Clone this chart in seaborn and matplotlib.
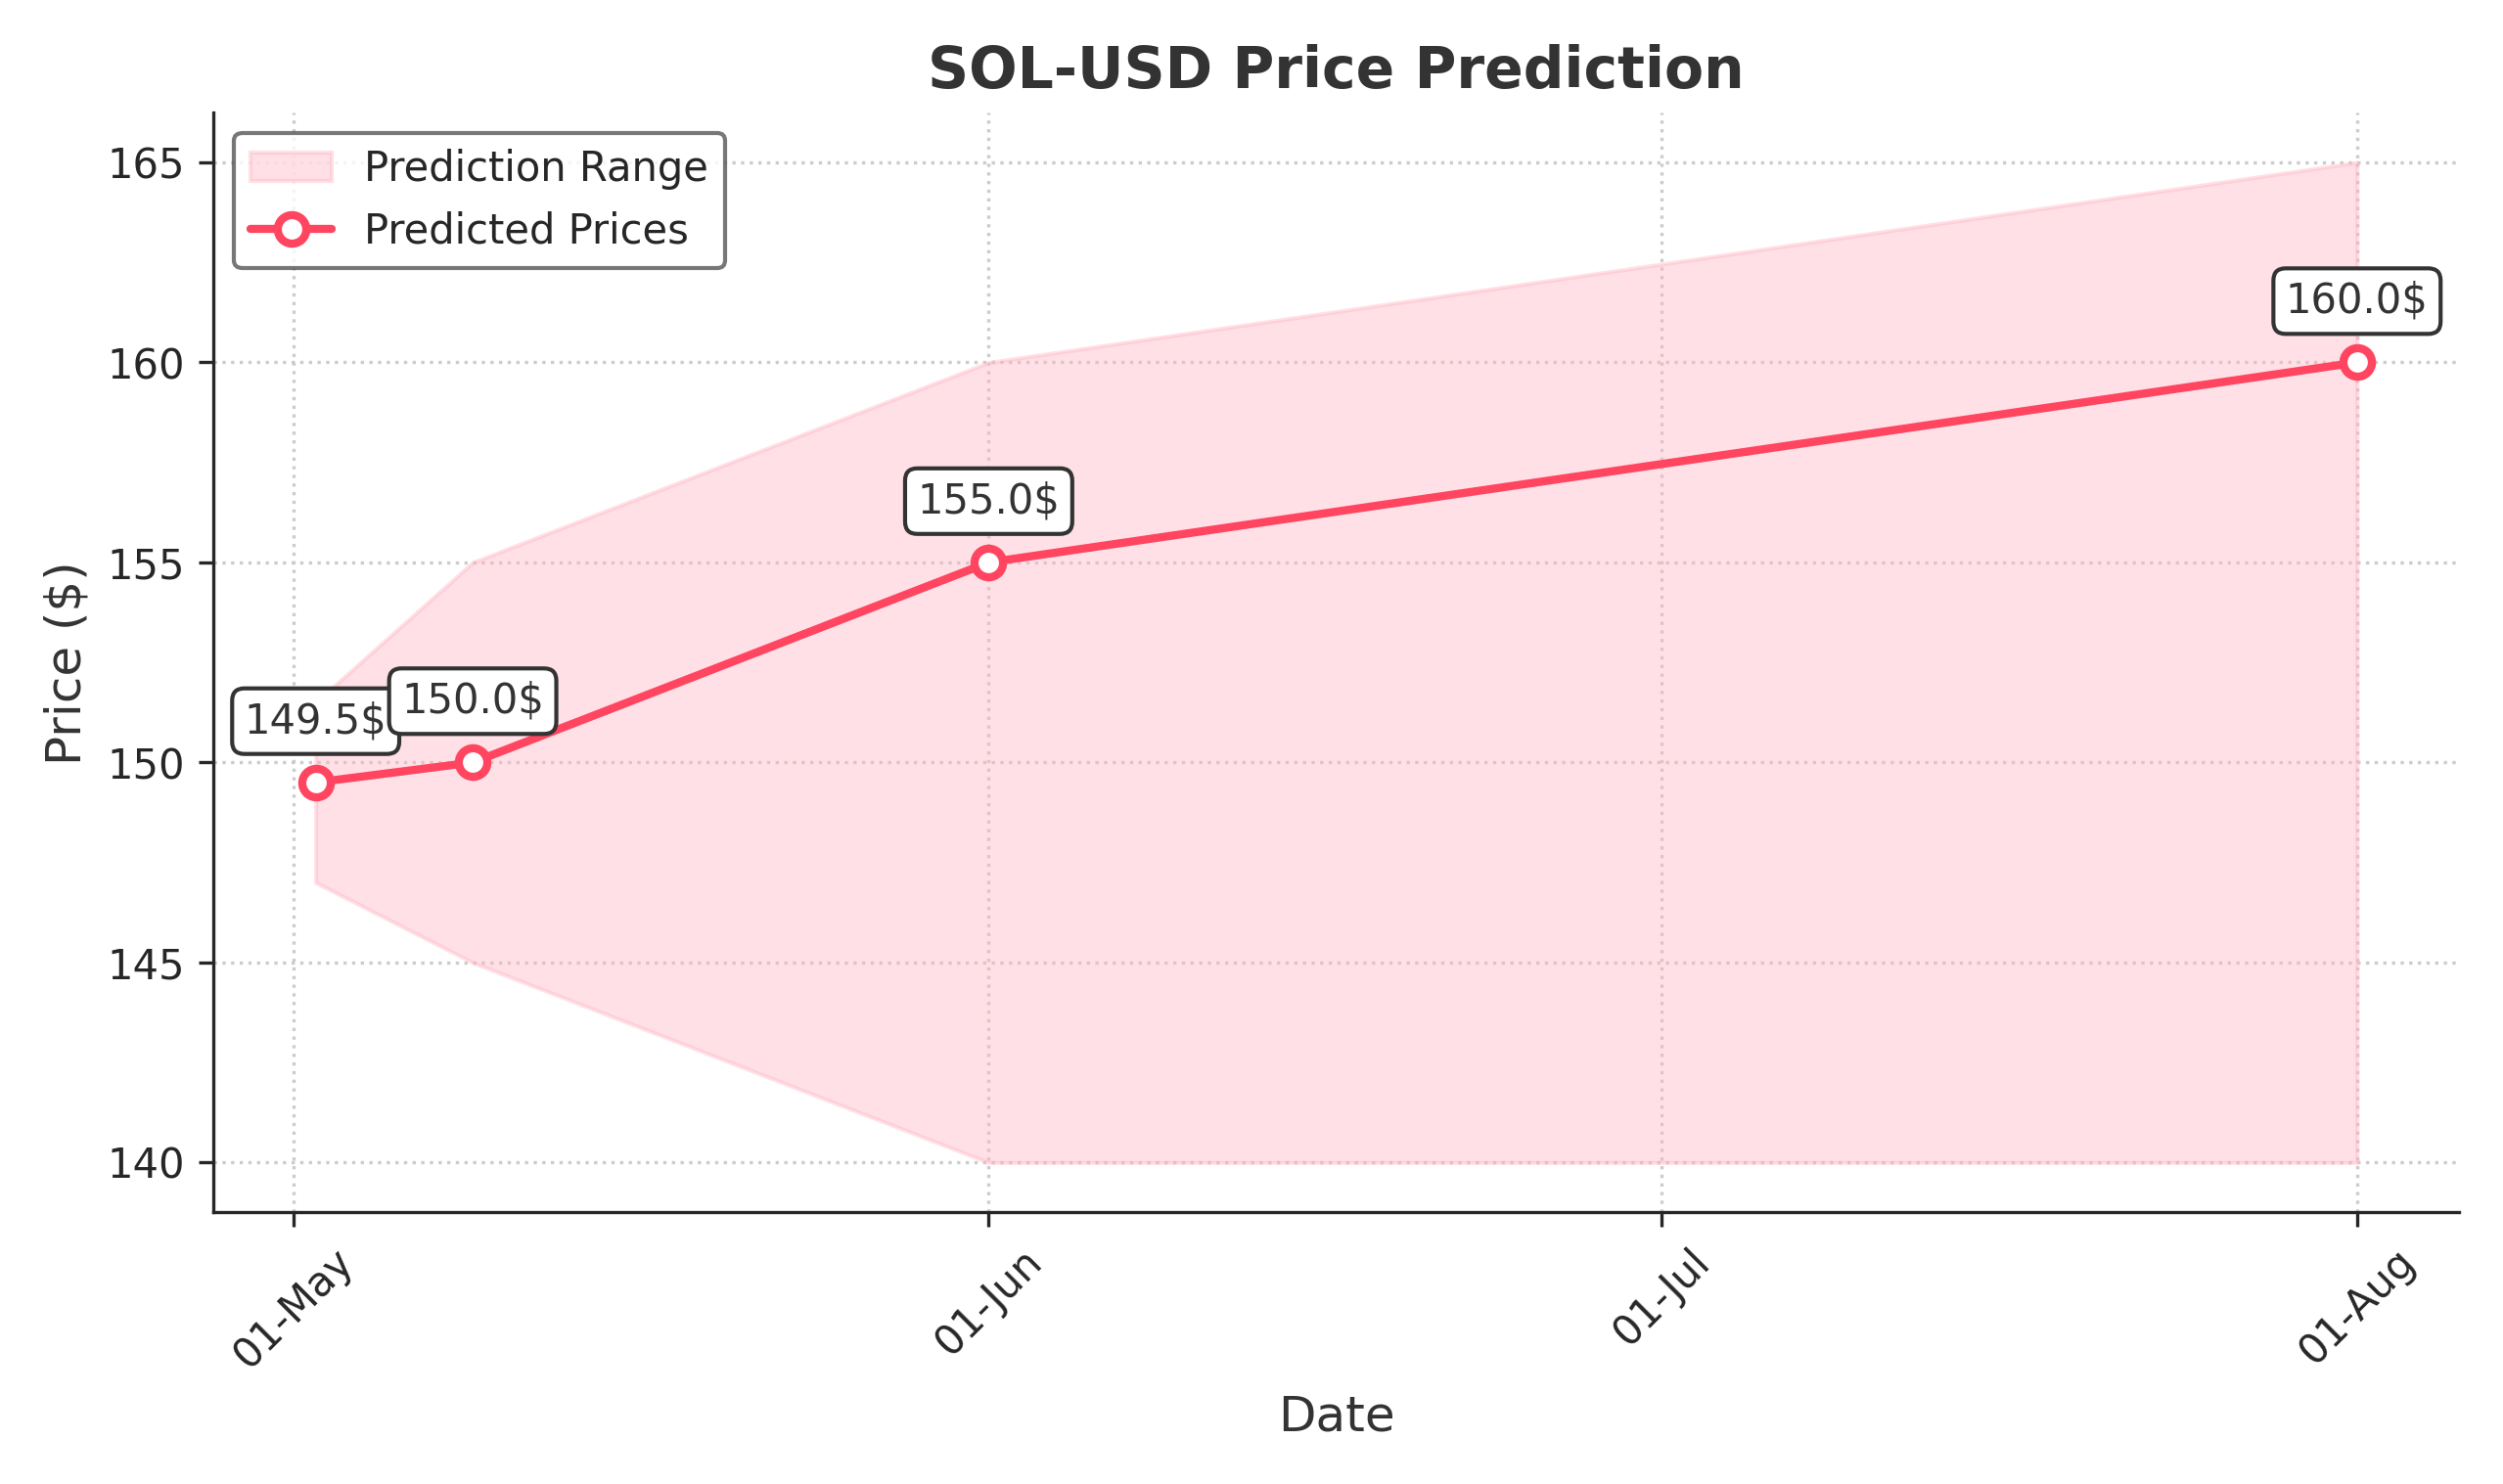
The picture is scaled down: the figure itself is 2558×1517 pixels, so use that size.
import matplotlib
matplotlib.use("Agg")
import matplotlib.pyplot as plt
import matplotlib.dates as mdates
import seaborn as sns
import pandas as pd

dates = ["2024-05-02", "2024-05-09", "2024-06-01", "2024-08-01"]
predicted = [149.5, 150.0, 155.0, 160.0]
lower = [147.0, 145.0, 140.0, 140.0]
upper = [151.5, 155.0, 160.0, 165.0]

df = pd.DataFrame({"Date": pd.to_datetime(dates), "Price": predicted,
                   "Low": lower, "High": upper})

sns.set_style("ticks")
fig, ax = plt.subplots(figsize=(8.527, 5.057), dpi=300)
color = "#ff4560"
ax.fill_between(df["Date"], df["Low"], df["High"], color="#ffb3c1", alpha=0.4,
                label="Prediction Range")
sns.lineplot(data=df, x="Date", y="Price", ax=ax, color=color, linewidth=2,
             marker="o", markersize=7, markerfacecolor="white",
             markeredgecolor=color, markeredgewidth=2, label="Predicted Prices")
for d, p in zip(df["Date"], df["Price"]):
    ax.annotate(f"{p:.1f}$", (d, p), xytext=(0, 10), textcoords="offset points",
                ha="center", va="bottom", fontsize=10, color="#333333",
                bbox=dict(boxstyle="round,pad=0.3", fc="white", ec="#333333", lw=1))
ax.set_title("SOL-USD Price Prediction", fontsize=14, fontweight="bold", color="#333333")
ax.set_xlabel("Date", fontsize=12, color="#333333")
ax.set_ylabel("Price ($)", fontsize=12, color="#333333")
ax.xaxis.set_major_locator(mdates.MonthLocator())
ax.xaxis.set_major_formatter(mdates.DateFormatter("%d-%b"))
plt.setp(ax.get_xticklabels(), rotation=45)
ax.set_yticks([140, 145, 150, 155, 160, 165])
ax.grid(True, linestyle=":", color="#cccccc", linewidth=0.8)
sns.despine(ax=ax)
ax.legend(loc="upper left", frameon=True, edgecolor="#555555", fontsize=10)
fig.tight_layout()
fig.savefig("out.png", dpi=300)
